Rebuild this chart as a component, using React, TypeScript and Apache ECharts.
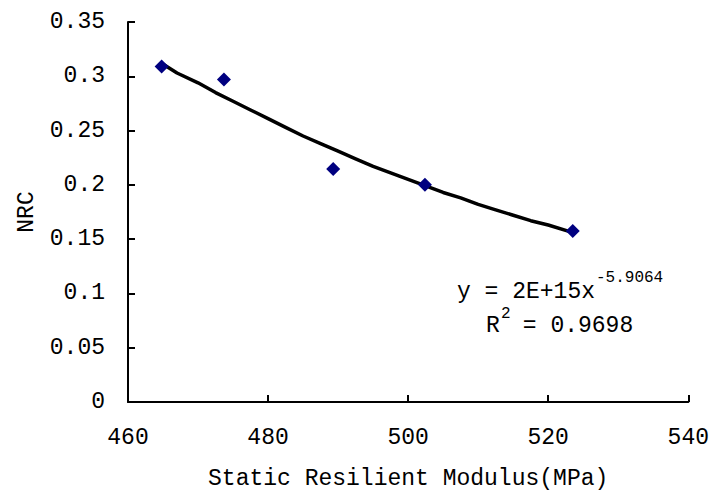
import React, { useEffect, useRef } from "react";
import * as echarts from "echarts";

const pointX = [464.8, 473.7, 489.3, 502.4, 523.5];
const pointY = [0.309, 0.297, 0.2145, 0.2, 0.1576];

const trendX = [464.8, 467, 470, 472.5, 475, 477.5, 480, 482.5, 485, 487.5, 490, 492.5, 495, 497.5, 500, 502.5, 505, 507.5, 510, 512.5, 515, 517.5, 520, 523.3];
const trendY = [0.312, 0.303, 0.294, 0.285, 0.277, 0.269, 0.261, 0.253, 0.245, 0.238, 0.231, 0.224, 0.217, 0.211, 0.205, 0.199, 0.193, 0.188, 0.182, 0.177, 0.172, 0.167, 0.163, 0.1565];

const xAxisName = "Static Resilient Modulus(MPa)";
const yAxisName = "NRC";
const eqMain = "y = 2E+15x";
const eqExp = "-5.9064";
const r2Main = "R";
const r2Exp = "2";
const r2Rest = " = 0.9698";

const FONT = "Liberation Mono";

export default function App() {
  const ref = useRef<HTMLDivElement>(null);
  useEffect(() => {
    document.body.style.margin = "0";
    if (!ref.current) return;
    const chart = echarts.init(ref.current, null, { renderer: "svg" });
    chart.setOption({
      animation: false,
      backgroundColor: "#ffffff",
      grid: { left: 128, right: 22, top: 22, bottom: 90 },
      xAxis: {
        type: "value",
        min: 460,
        max: 540,
        interval: 20,
        name: xAxisName,
        nameLocation: "middle",
        nameGap: 65,
        nameTextStyle: { fontFamily: FONT, fontSize: 23, color: "#000" },
        axisLine: { show: true, lineStyle: { color: "#000", width: 2 } },
        axisTick: { show: true, inside: true, length: 7, lineStyle: { color: "#000", width: 2 } },
        axisLabel: { fontFamily: FONT, fontSize: 23, color: "#000", margin: 24 },
        splitLine: { show: false },
      },
      yAxis: {
        type: "value",
        min: 0,
        max: 0.35,
        interval: 0.05,
        name: yAxisName,
        nameLocation: "middle",
        nameGap: 88,
        nameRotate: 90,
        nameTextStyle: { fontFamily: FONT, fontSize: 23, color: "#000" },
        axisLine: { show: true, lineStyle: { color: "#000", width: 2 } },
        axisTick: { show: true, inside: true, length: 7, lineStyle: { color: "#000", width: 2 } },
        axisLabel: {
          fontFamily: FONT,
          fontSize: 23,
          color: "#000",
          margin: 23,
          formatter: (v: number) => String(Math.round(v * 100) / 100),
        },
        splitLine: { show: false },
      },
      series: [
        {
          type: "line",
          data: trendX.map((x, i) => [x, trendY[i]]),
          showSymbol: false,
          smooth: false,
          lineStyle: { color: "#000", width: 3.5 },
          z: 2,
        },
        {
          type: "scatter",
          data: pointX.map((x, i) => [x, pointY[i]]),
          symbol: "diamond",
          symbolSize: 14,
          itemStyle: { color: "#000080", opacity: 1 },
          z: 3,
        },
      ],
      graphic: [
        { type: "text", left: 457, top: 280, style: { text: eqMain, fontFamily: FONT, fontSize: 23, fill: "#000" } },
        { type: "text", left: 596, top: 270, style: { text: eqExp, fontFamily: FONT, fontSize: 16, fill: "#000" } },
        { type: "text", left: 486, top: 314, style: { text: r2Main, fontFamily: FONT, fontSize: 23, fill: "#000" } },
        { type: "text", left: 501, top: 306, style: { text: r2Exp, fontFamily: FONT, fontSize: 16, fill: "#000" } },
        { type: "text", left: 509, top: 314, style: { text: r2Rest, fontFamily: FONT, fontSize: 23, fill: "#000" } },
      ],
    });
    return () => chart.dispose();
  }, []);
  return <div ref={ref} style={{ width: 712, height: 495 }} />;
}
